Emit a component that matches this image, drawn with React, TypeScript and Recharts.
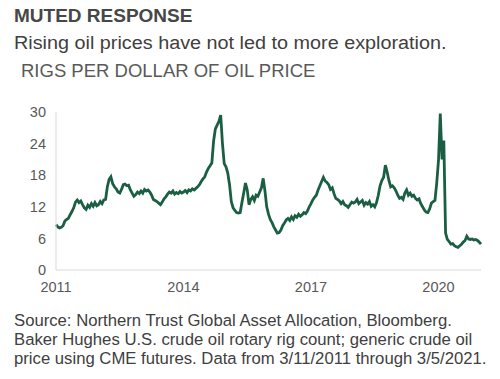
import { Line, LineChart, XAxis, YAxis } from 'recharts';

// semi-monthly readings, 3/11/2011 through 3/5/2021 (one row = one year from March)
const RIGS_PER_DOLLAR = [
  8.6, 8.2, 8.0, 8.1, 8.4, 9.3, 9.6, 9.8, 10.5, 11.1, 11.8, 12.9, 13.3, 12.8, 13.1, 12.4, 11.8, 11.5, 12.3, 11.9, 12.6, 12.1, 12.8, 12.2,
  12.4, 13.0, 12.6, 13.3, 13.4, 15.8, 17.2, 17.7, 16.4, 15.8, 15.4, 14.8, 14.6, 15.3, 16.2, 16.3, 16.0, 16.1, 15.2, 14.6, 14.0, 14.3, 14.8, 14.5,
  15.0, 14.6, 15.3, 15.0, 15.2, 14.8, 14.2, 13.4, 13.2, 13.0, 12.7, 12.4, 12.9, 13.5, 13.9, 14.4, 14.8, 14.6, 15.0, 14.4, 14.7, 14.5, 14.9, 14.6,
  14.8, 15.1, 14.7, 15.2, 15.0, 15.4, 15.2, 15.5, 15.8, 16.2, 16.8, 17.3, 17.7, 18.6, 19.3, 19.8, 20.3, 24.5, 26.8, 27.5, 28.2, 29.4, 24.0, 20.2,
  19.6, 18.4, 16.2, 13.0, 11.8, 11.3, 10.9, 10.8, 10.9, 12.8, 14.6, 16.5, 15.2, 12.4, 13.4, 13.9, 13.2, 14.2, 14.0, 14.8, 15.6, 17.4, 15.0, 12.0,
  10.6, 9.6, 9.0, 8.2, 7.6, 7.0, 7.1, 7.6, 8.4, 8.9, 9.5, 9.8, 9.4, 10.1, 9.6, 10.3, 10.0, 10.6, 10.2, 10.5, 10.9, 10.7, 11.2, 12.0,
  12.6, 13.3, 13.8, 14.2, 15.2, 16.0, 16.8, 17.6, 16.9, 16.6, 16.2, 15.3, 15.6, 14.5, 13.6, 13.4, 13.1, 12.6, 13.0, 12.4, 12.2, 11.9, 12.4, 12.9,
  12.7, 12.9, 13.4, 12.6, 12.9, 13.2, 12.3, 12.8, 12.5, 13.0, 12.1, 12.4, 12.0, 12.8, 14.2, 16.0, 17.0, 17.6, 19.9, 18.6, 17.0, 15.8, 16.0, 15.6,
  15.0, 14.2, 13.6, 13.8, 13.4, 14.6, 15.2, 14.2, 14.6, 14.0, 14.2, 13.6, 13.3, 13.5, 12.6, 12.0, 11.4, 11.0, 10.9, 11.6, 12.7, 13.0, 13.2, 16.5,
  20.8, 29.7, 21.0, 24.6, 7.0, 5.8, 5.4, 4.9, 5.0, 4.6, 4.4, 4.3, 4.6, 4.9, 5.3, 5.6, 6.4, 5.9, 5.8, 5.9, 5.7, 5.8, 5.6, 5.3, 4.9,
];

const YEAR_LABELS = ['2011', '2014', '2017', '2020'];
const YEAR_TICKS = [0, 72, 144, 216]; // period index of each label
const Y_TICKS = [0, 6, 12, 18, 24, 30];

const data = RIGS_PER_DOLLAR.map((v, i) => ({ t: i, v }));

const FONT = '"Liberation Sans", Arial, sans-serif';
const GREEN = '#1a5f42';

export default function App() {
  return (
    <div
      style={{
        position: 'absolute',
        left: 0,
        top: 0,
        width: 500,
        height: 379,
        background: '#fff',
        fontFamily: FONT,
      }}
    >
      <div style={{ position: 'absolute', left: 14, top: 5, fontSize: 19, fontWeight: 700, color: '#474747', whiteSpace: 'nowrap' }}>
        MUTED RESPONSE
      </div>
      <div
        style={{
          position: 'absolute',
          left: 14,
          top: 33,
          fontSize: 18,
          color: '#404040',
          whiteSpace: 'nowrap',
          transform: 'scaleX(1.1)',
          transformOrigin: 'left top',
        }}
      >
        Rising oil prices have not led to more exploration.
      </div>
      <div style={{ position: 'absolute', left: 21, top: 60, fontSize: 18.5, color: '#595959', whiteSpace: 'nowrap' }}>
        RIGS PER DOLLAR OF OIL PRICE
      </div>

      <div style={{ position: 'absolute', left: 0, top: 0 }}>
        <LineChart
          width={500}
          height={305}
          data={data}
          margin={{ top: 112, right: 19, bottom: 5, left: 16 }}
        >
          <XAxis
            dataKey="t"
            type="number"
            domain={[0, RIGS_PER_DOLLAR.length - 1]}
            ticks={YEAR_TICKS}
            tickFormatter={(t: number) => YEAR_LABELS[YEAR_TICKS.indexOf(t)]}
            height={30}
            stroke="#d9d9d9"
            tickLine={false}
            tickMargin={6}
            tick={{ fill: '#595959', fontSize: 14.5, fontFamily: FONT }}
          />
          <YAxis
            domain={[0, 30]}
            ticks={Y_TICKS}
            width={40}
            stroke="#d9d9d9"
            tickLine={false}
            tickMargin={4}
            tick={{ fill: '#595959', fontSize: 14.5, fontFamily: FONT }}
          />
          <Line
            dataKey="v"
            stroke={GREEN}
            strokeWidth={2.8}
            dot={false}
            type="linear"
            isAnimationActive={false}
          />
        </LineChart>
      </div>

      <div
        style={{
          position: 'absolute',
          left: 14,
          top: 310.5,
          fontSize: 16.7,
          lineHeight: '19px',
          color: '#404040',
          whiteSpace: 'nowrap',
        }}
      >
        Source: Northern Trust Global Asset Allocation, Bloomberg.
        <br />
        Baker Hughes U.S. crude oil rotary rig count; generic crude oil
        <br />
        price using CME futures. Data from 3/11/2011 through 3/5/2021.
      </div>
    </div>
  );
}
